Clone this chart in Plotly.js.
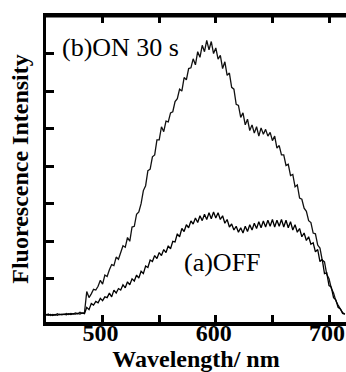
<!DOCTYPE html>
<html>
<head>
<meta charset="utf-8">
<script src="https://cdn.plot.ly/plotly-3.0.1.min.js"></script>
<style>html,body{margin:0;padding:0;background:#fff;}#chart{width:346px;height:372px;}</style>
</head>
<body>
<div id="chart"></div>
<script>
const wavelength = [450,452,454,456,458,460,462,464,466,468,470,472,474,476,478,480,482,484,
486,488,490,492,494,496,498,500,502,504,506,508,510,512,514,516,518,520,522,524,526,528,530,532,534,536,538,540,542,544,546,548,550,
552,554,556,558,560,562,564,566,568,570,572,574,576,578,580,582,584,586,588,590,592,594,596,598,600,602,604,606,608,610,612,614,616,
618,620,622,624,626,628,630,632,634,636,638,640,642,644,646,648,650,652,654,656,658,660,662,664,666,668,670,672,674,676,678,680,682,
684,686,688,690,692,694,696,698,700,702,704,706,708,710,712,714];
const onIntensity = [0.03,0.06,0.02,0.05,0.03,0.07,0.04,0.06,0.05,0.08,0.05,0.08,0.06,0.09,0.07,0.11,0.08,0.10,
0.66,0.50,0.60,0.72,0.70,0.80,0.96,0.86,1.10,1.06,
1.24,1.38,1.35,1.58,1.52,1.70,1.88,1.84,2.10,2.00,
2.38,2.40,2.72,2.78,3.00,3.35,3.48,3.88,3.92,4.25,
4.30,4.70,4.70,5.05,4.92,5.20,5.18,5.42,5.45,5.72,
5.80,6.05,6.00,6.36,6.30,6.60,6.62,6.86,6.70,7.05,
6.90,7.22,7.05,7.35,7.10,7.32,7.00,7.15,6.85,6.95,
6.60,6.78,6.42,6.48,6.10,6.05,5.65,5.62,5.30,5.42,
5.10,5.25,4.95,5.10,4.88,5.05,4.80,5.02,4.85,4.98,
4.80,4.90,4.68,4.80,4.48,4.55,4.30,4.30,4.02,4.05,
3.75,3.78,3.45,3.50,3.15,3.12,2.88,2.80,2.55,2.50,
2.22,2.20,1.90,1.82,1.50,1.45,1.12,1.00,0.75,0.62,
0.42,0.30,0.18,0.10,0.06];
const offIntensity = [0.05,0.03,0.05,0.02,0.05,0.03,0.06,0.04,0.06,0.04,0.07,0.05,0.07,0.06,0.08,0.06,0.09,0.07,
0.24,0.18,0.34,0.30,0.40,0.36,0.48,0.42,0.52,0.50,
0.62,0.52,0.70,0.62,0.74,0.70,0.84,0.76,0.92,0.84,
1.00,0.94,1.10,1.02,1.20,1.14,1.34,1.30,1.50,1.46,
1.62,1.54,1.70,1.62,1.78,1.70,1.88,1.80,2.00,1.98,
2.20,2.12,2.34,2.26,2.44,2.36,2.54,2.46,2.62,2.50,
2.68,2.55,2.72,2.58,2.76,2.60,2.78,2.62,2.76,2.58,
2.68,2.48,2.58,2.38,2.46,2.30,2.40,2.24,2.36,2.22,
2.40,2.26,2.44,2.30,2.48,2.34,2.52,2.36,2.54,2.38,
2.56,2.40,2.58,2.38,2.56,2.40,2.58,2.38,2.56,2.36,
2.52,2.30,2.44,2.24,2.34,2.12,2.22,2.02,2.12,1.92,
1.96,1.72,1.78,1.46,1.52,1.14,1.16,0.82,0.78,0.50,
0.44,0.24,0.20,0.08,0.06];
const xTickVals = [500,550,600,650,700];
const xTickText = ['<b>500</b>','','<b>600</b>','','<b>700</b>'];
const yTickVals = [1,2,3,4,5,6,7];
const labelOn = '(b)ON 30 s';
const labelOff = '(a)OFF';

const serif = "'Liberation Serif', 'Times New Roman', Times, serif";
const traces = [
  {x: wavelength, y: onIntensity, mode: 'lines', line: {color: '#111', width: 1.3}, hoverinfo: 'skip'},
  {x: wavelength, y: offIntensity, mode: 'lines', line: {color: '#000', width: 1.3}, hoverinfo: 'skip'}
];
const layout = {
  width: 346, height: 372,
  margin: {l: 46, r: 0, t: 16, b: 50},
  paper_bgcolor: '#fff', plot_bgcolor: '#fff',
  showlegend: false,
  font: {family: serif, color: '#000'},
  xaxis: {
    range: [450, 715], showgrid: false, zeroline: false,
    showline: true, linecolor: '#000', linewidth: 3.5, mirror: 'ticks',
    ticks: 'inside', ticklen: 7, tickwidth: 3, tickcolor: '#000',
    tickvals: xTickVals, ticktext: xTickText,
    tickfont: {family: serif, size: 24, weight: 700},
    ticklabelstandoff: -13, ticklabelshift: -2, ticklabeloverflow: 'allow',
    title: {text: 'Wavelength/ nm', font: {family: serif, size: 24, weight: 700}, standoff: 0}
  },
  yaxis: {
    range: [-0.15, 8.0], showgrid: false, zeroline: false,
    showline: true, linecolor: '#000', linewidth: 3.5, mirror: false,
    ticks: 'inside', ticklen: 8, tickwidth: 3, tickcolor: '#000',
    tickvals: yTickVals, showticklabels: false,
    title: {text: 'Fluorescence Intensity', font: {family: serif, size: 24, weight: 700}, standoff: 8}
  },
  shapes: [
    {type: 'line', xref: 'paper', yref: 'paper', x0: 0, x1: 1, y0: 1, y1: 1, line: {color: '#000', width: 3}}
  ],
  annotations: [
    {text: labelOn, x: 462, y: 7.16, xref: 'x', yref: 'y', xanchor: 'left', yanchor: 'middle', showarrow: false, font: {family: serif, size: 26}},
    {text: labelOff, x: 569.7, y: 1.43, xref: 'x', yref: 'y', xanchor: 'left', yanchor: 'middle', showarrow: false, font: {family: serif, size: 26}}
  ]
};
Plotly.newPlot('chart', traces, layout, {staticPlot: true, displayModeBar: false});
</script>
</body>
</html>
